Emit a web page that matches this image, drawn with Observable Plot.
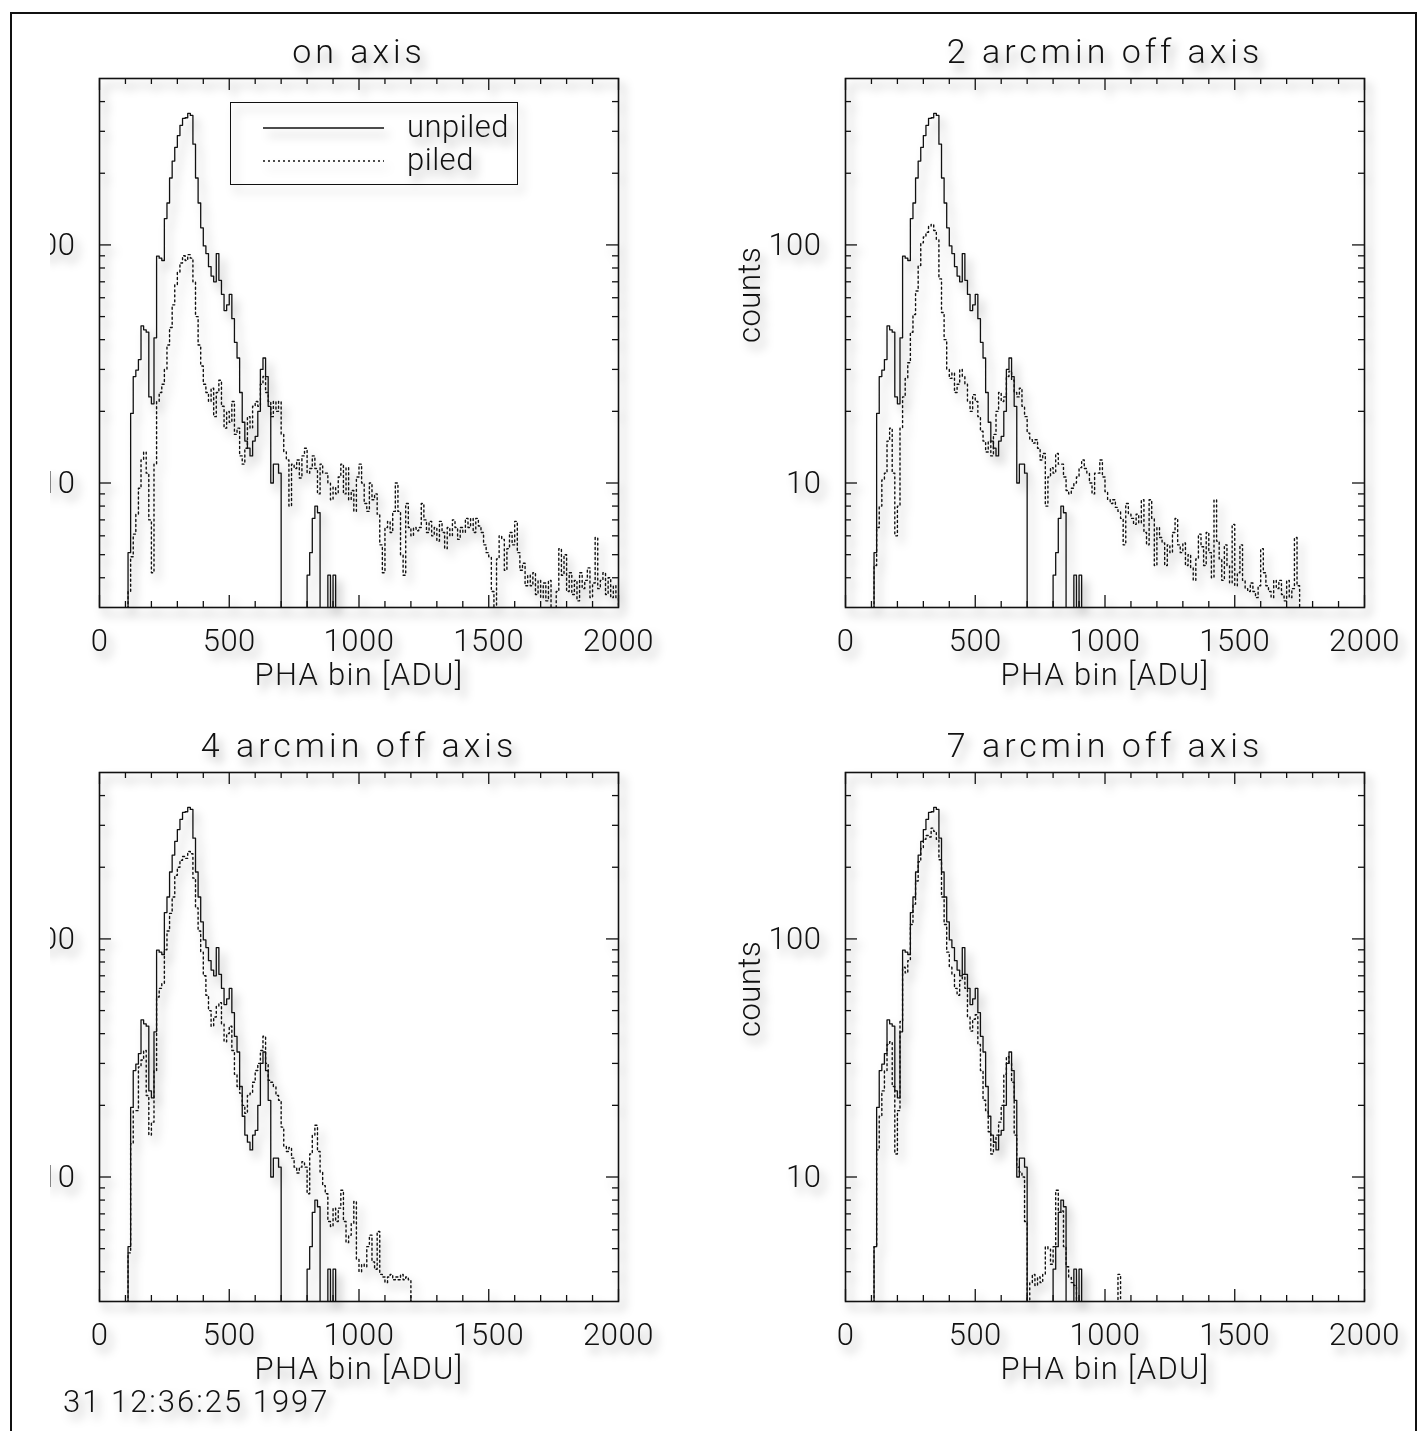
<!DOCTYPE html>
<html><head><meta charset="utf-8">
<script src="https://cdn.jsdelivr.net/npm/d3@7"></script>
<script src="https://cdn.jsdelivr.net/npm/@observablehq/plot@0.6"></script>
<style>
html,body{margin:0;padding:0;background:#fff;}
#page{position:relative;width:1426px;height:1431px;overflow:hidden;background:#fff;font-family:Roboto,"Open Sans",sans-serif;font-weight:300;color:#111;}
#border{position:absolute;left:10px;top:12px;width:1407px;height:1500px;border:2px solid #111;box-sizing:border-box;}
#clip{position:absolute;left:0;top:0;width:1426px;height:1431px;clip-path:inset(0 0 0 50px);}
.panel{position:absolute;}
.shadow{filter:drop-shadow(5px 7px 5px rgba(0,0,0,0.33));}
#legend{position:absolute;left:230px;top:102px;width:288px;height:83px;border:1.6px solid #111;box-sizing:border-box;background:none;}
#legend svg{position:absolute;left:0;top:0;}
.ltext{position:absolute;font-size:31px;line-height:31px;letter-spacing:0.5px;}
#date{position:absolute;left:63px;top:1386px;font-size:31px;line-height:31px;letter-spacing:2px;}
</style></head>
<body><div id="page"><div id="border"></div><div id="clip"></div></div>
<script>
// ---- data (10-ADU PHA bins, first bin starts at 100 ADU) ----
const binWidth = 10;
const binStart = 100;
const panelTitles = ["on axis", "2 arcmin off axis", "4 arcmin off axis", "7 arcmin off axis"];
const xMajorTicks = [0, 500, 1000, 1500, 2000];
const xMinorTicks = [100, 200, 300, 400, 600, 700, 800, 900, 1100, 1200, 1300, 1400, 1600, 1700, 1800, 1900];
const yMajorTicks = [10, 100];
const yMinorTicks = [4, 5, 6, 7, 8, 9, 20, 30, 40, 50, 60, 70, 80, 90, 200, 300, 400];
const legendLabels = ["unpiled", "piled"];
const xLabel = "PHA bin [ADU]";
const yLabel = "counts";
const dateText = "31 12:36:25 1997";

// counts below 3 fall under the axis floor (drawn as 1)
const unpiled = [
  1, 5.1, 19.6, 28, 29.8, 33, 45.7, 44, 43, 23,
  21.5, 40.7, 89.7, 88, 86, 129, 150, 191, 225, 257,
  288, 318, 340, 342, 357, 350, 265, 191, 150, 118,
  99, 92, 81, 74, 70, 92, 71, 62, 53, 56,
  62, 49, 39, 33.5, 24, 18, 15, 14, 13, 15,
  15.7, 20, 30, 33.5, 28, 21, 10, 12, 12, 11,
  1, 1, 1, 1, 1, 1, 1, 1, 1, 1,
  4.1, 5.1, 7.1, 8, 7.5, 1, 1, 1, 4.1, 1,
  4.1, 1
];
const piledOnAxis = [
  1, 3.5, 4.9, 6.1, 7.4, 9.5, 12.5, 13.5, 11, 7,
  4.2, 12, 22, 24, 26, 30, 38, 45, 56, 68,
  77, 84, 90, 86, 91, 88, 70, 50, 38, 31,
  26, 24, 22, 25, 19, 24, 27, 21, 17, 20,
  18, 22, 16, 17, 13, 12, 14, 19, 17, 21,
  22, 21, 26, 28, 24, 22, 19, 22, 20, 22,
  16, 13.5, 12.5, 8, 12, 11.5, 12.5, 10.5, 13, 14,
  11, 11.5, 13, 11.5, 9, 12, 11, 11, 10, 8.5,
  9.6, 9, 10.6, 12, 9, 11.6, 8.5, 9.3, 7.6, 10.6,
  12, 10, 8.2, 7.6, 10, 8.5, 9, 7.4, 5.5, 4.2,
  6.5, 6.9, 6.2, 7.6, 10, 7.6, 5, 4.1, 8.2, 6.5,
  6, 6.5, 6.3, 6.5, 8.2, 7, 6.2, 6.9, 6, 6.5,
  5.7, 6.9, 6.2, 5.3, 6.5, 6, 7, 6.5, 5.8, 6.5,
  6.2, 7.1, 6.5, 7.1, 6.2, 7.1, 6.6, 6.2, 5.5, 5.1,
  4.9, 3.5, 1, 4.8, 6, 5.8, 4.3, 5.3, 6.2, 5.5,
  6.9, 5.1, 4.3, 4.6, 3.7, 4.1, 3.7, 4.2, 3.4, 3.9,
  3.3, 3.8, 3.2, 3.9, 1, 1, 3.5, 5.3, 4.1, 5.0,
  3.5, 4.2, 3.4, 3.9, 3.2, 4.2, 3.6, 3.9, 4.4, 3.3,
  3.8, 5.9, 3.6, 3.9, 4.2, 3.4, 4.0, 3.3, 3.7, 3.3
];
const piled2arcmin = [
  1, 4.5, 6.5, 8, 10.3, 11, 15, 17, 11, 6,
  8, 17, 23, 27.5, 32, 43, 51, 64, 82, 102,
  108, 113, 120, 122, 115, 105, 72, 52, 40, 30,
  27.5, 29, 24, 26, 30, 28, 26, 22, 20, 23.5,
  22, 19, 16.5, 15, 13.5, 15, 13, 16, 20, 24,
  22, 23, 28, 29.5, 27, 24, 23, 25, 21, 19,
  16.2, 15.2, 14.7, 15.2, 14, 12.5, 13.3, 8, 10.6, 11.6,
  11, 13.3, 12, 12, 10.6, 9.3, 9, 9.5, 10, 10.6,
  11.6, 12.5, 11.5, 11, 10, 9, 11, 11, 12.5, 10.6,
  9.2, 8.5, 8.2, 8.5, 7.9, 7.6, 7.1, 5.5, 8.2, 7.4,
  7.1, 6.7, 7.4, 6.8, 8.5, 6.2, 5.5, 8.5, 7.1, 4.5,
  6.5, 5.9, 5.6, 4.5, 5.5, 5.1, 6.2, 7.1, 5.5, 5.1,
  5.6, 4.5, 5.0, 4.4, 3.9, 4.8, 6.1, 5.4, 4.5, 6.2,
  5.1, 4.0, 8.5, 5.7, 4.8, 3.9, 5.5, 4.5, 3.8, 6.7,
  3.7, 4.2, 5.5, 3.9, 3.6, 3.5, 3.8, 3.5, 3.3, 3.7,
  5.3, 4.2, 3.7, 3.5, 3.3, 3.9, 3.6, 3.9, 3.4, 3.2,
  3.9, 3.3, 3.6, 5.9, 3.7, 1
];
const piled4arcmin = [
  1, 4.8, 13.8, 19, 19, 29, 31, 34, 22, 15,
  17, 28, 57, 62, 65, 90, 108, 128, 150, 185,
  200, 214, 222, 218, 233, 228, 180, 135, 108, 88,
  70, 58, 50, 43, 47, 52, 54, 44, 37, 40,
  43, 34, 27, 24, 22.5, 20, 18.5, 22, 22.5, 25,
  28, 30, 34, 39, 30, 25.5, 25, 24, 22, 21,
  16.2, 13.5, 12.8, 13.3, 12, 11, 10.4, 11, 11.6, 11,
  8.5, 12.5, 15, 16.5, 12.8, 10.5, 9.2, 8.5, 6.5, 6.2,
  7.4, 6.5, 7.4, 8.8, 6.5, 5.3, 5.7, 6.4, 7.9, 4.5,
  4.0, 4.3, 4.2, 5.1, 5.7, 4.4, 4.1, 5.9, 3.9, 3.8,
  3.6, 3.8, 3.9, 3.7, 3.8, 3.7, 3.9, 3.7, 3.8, 3.7
];
const piled7arcmin = [
  1, 5.1, 13, 18, 23, 28, 36, 37, 24, 12.5,
  19, 45, 76, 72, 81, 115, 140, 175, 211, 240,
  262, 272, 268, 292, 283, 262, 215, 150, 115, 88,
  76, 71, 62, 58, 67, 71, 62, 47, 41, 46,
  48, 36, 28, 21, 19, 15.5, 12.5, 14, 15, 17,
  20, 27, 32, 30, 25, 15, 11, 10.5, 10, 6.5,
  1, 3.6, 3.9, 3.5, 3.8, 3.6, 3.9, 5.1, 5.0, 4.3,
  5.1, 8.8, 7.1, 7.2, 5.1, 4.2, 3.8, 3.6, 3.5, 1,
  1, 1, 1, 1, 1, 1, 1, 1, 1, 1,
  1, 1, 1, 1, 1, 3.9, 1
];
const piledSeries = [piledOnAxis, piled2arcmin, piled4arcmin, piled7arcmin];

// ---- layout ----
const FW = 519, FH = 529;              // plot frame size
const mL = 110, mR = 40, mT = 75, mB = 100;
const frameLefts = [99, 845, 99, 845];
const frameTops = [78, 78, 772, 772];

function toSteps(values) {
  const pts = values.map((v, i) => ({x: binStart + i * binWidth, y: v}));
  pts.push({x: binStart + values.length * binWidth, y: 1});
  return pts;
}

const clip = document.getElementById("clip");
const font = "Roboto, 'Open Sans', sans-serif";

panelTitles.forEach((title, i) => {
  const svg = Plot.plot({
    width: mL + FW + mR, height: mT + FH + mB,
    marginLeft: mL, marginRight: mR, marginTop: mT, marginBottom: mB,
    style: {background: "none", overflow: "visible", maxWidth: "none", fontFamily: font, fontWeight: 300, color: "#111"},
    x: {domain: [0, 2000], axis: null},
    y: {type: "log", domain: [3, 500], axis: null},
    marks: [
      Plot.tickX(xMinorTicks, {x: d => d, insetTop: FH - 6, stroke: "#111", strokeWidth: 1.3}),
      Plot.tickX(xMajorTicks, {x: d => d, insetTop: FH - 12, stroke: "#111", strokeWidth: 1.3}),
      Plot.tickX(xMinorTicks, {x: d => d, insetBottom: FH - 6, stroke: "#111", strokeWidth: 1.3}),
      Plot.tickX(xMajorTicks, {x: d => d, insetBottom: FH - 12, stroke: "#111", strokeWidth: 1.3}),
      Plot.tickY(yMinorTicks, {y: d => d, insetRight: FW - 6, stroke: "#111", strokeWidth: 1.3}),
      Plot.tickY(yMajorTicks, {y: d => d, insetRight: FW - 12, stroke: "#111", strokeWidth: 1.3}),
      Plot.tickY(yMinorTicks, {y: d => d, insetLeft: FW - 6, stroke: "#111", strokeWidth: 1.3}),
      Plot.tickY(yMajorTicks, {y: d => d, insetLeft: FW - 12, stroke: "#111", strokeWidth: 1.3}),
      Plot.line(toSteps(unpiled), {x: "x", y: "y", curve: "step-after", clip: true, stroke: "#111", strokeWidth: 1.3}),
      Plot.line(toSteps(piledSeries[i]), {x: "x", y: "y", curve: "step-after", clip: true, stroke: "#111", strokeWidth: 1.4, strokeDasharray: "2,3"}),
      Plot.frame({stroke: "#111", strokeWidth: 1.6}),
      Plot.text(xMajorTicks, {x: d => d, frameAnchor: "bottom", lineAnchor: "middle", dy: 34, text: d => String(d), fontSize: 31, fill: "#111"}),
      Plot.text(yMajorTicks, {y: d => d, frameAnchor: "left", lineAnchor: "middle", dx: -24, textAnchor: "end", text: d => String(d), fontSize: 31, fill: "#111"}),
      Plot.text([yLabel], {frameAnchor: "left", lineAnchor: "middle", dx: -95, rotate: -90, fontSize: 31, fill: "#111"}),
      Plot.text([xLabel], {frameAnchor: "bottom", lineAnchor: "middle", dy: 68, fontSize: 31, fill: "#111"}),
      Plot.text([title], {frameAnchor: "top", lineAnchor: "middle", dy: -26, fontSize: 34, fill: "#111"})
    ]
  });
  // letter spacing to mimic the wide vector font of the original
  svg.querySelectorAll("text").forEach(t => {
    const s = t.textContent;
    if (s === title) t.style.letterSpacing = "4px";
    else if (s === xLabel) t.style.letterSpacing = "1.3px";
    else if (s === yLabel) t.style.letterSpacing = "0.5px";
    else t.style.letterSpacing = "0.5px";
  });
  svg.classList.add("panel", "shadow");
  svg.style.left = (frameLefts[i] - mL) + "px";
  svg.style.top = (frameTops[i] - mT) + "px";
  svg.style.position = "absolute";
  clip.appendChild(svg);
});

// legend (top-left panel)
const legend = document.createElement("div");
legend.id = "legend";
legend.className = "shadow";
legend.innerHTML = `<svg width="288" height="83">
  <line x1="32" x2="153" y1="25" y2="25" stroke="#111" stroke-width="1.3"/>
  <line x1="32" x2="153" y1="58" y2="58" stroke="#111" stroke-width="1.4" stroke-dasharray="2,3"/>
</svg>
<div class="ltext" style="left:176px;top:8px">${legendLabels[0]}</div>
<div class="ltext" style="left:176px;top:41px">${legendLabels[1]}</div>`;
clip.appendChild(legend);

const date = document.createElement("div");
date.id = "date";
date.className = "shadow";
date.textContent = dateText;
clip.appendChild(date);
</script>
</body></html>
